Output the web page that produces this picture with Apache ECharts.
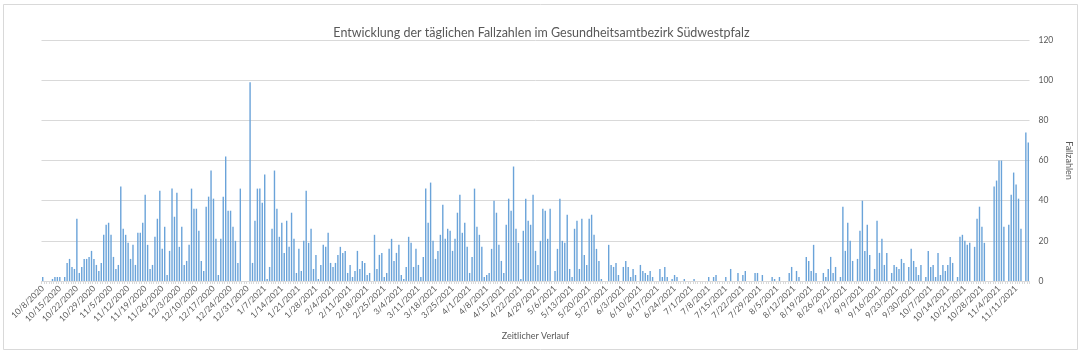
<!DOCTYPE html>
<html>
<head>
<meta charset="utf-8">
<script src="https://cdn.jsdelivr.net/npm/echarts@6/dist/echarts.min.js"></script>
<style>
html,body{margin:0;padding:0;background:#fff;}
#chart{width:1083px;height:356px;}
</style>
</head>
<body>
<div id="chart"></div>
<script>
// Reporting period (one category per day)
const startDate = '2020-10-08';
const endDate = '2021-11-16';

// Daily case counts, in chronological order
const casesOct2020 = [2,0,0,0,1,2,2,2,0,2, 9,11,7,6,31,4,7,11,11,12,15,11,8,5,9,23,28,29,23,12,6,8,47,26,23,19];
const casesNovDec2020 = [11,18,8,24,24,29,43,18,6,8,22,31,45,16,27,3,15,46,32,44,17,27,8,10,18,46,36,36,25,10,5,37,42,55,41,21,3,21,42,62,35];
const casesDecFeb = [35,27,20,9,46,0,0,0,99,9,30,46,46,39,53,1,7,26,55,36,22,29,14,30,17,34,21,4,16,5,20,45,19,26,6,13,1,8,18,17,24];
const casesFebMar = [9,7,9,13,17,14,15,4,8,2,5,15,6,10,9,3,4,0,23,6,13,14,2,4,16,21,10,14,18,3,1,7,22,19,7,16,8,2,12,46,29];
const casesMarApr = [49,20,11,15,23,38,21,26,25,15,21,34,43,24,29,17,4,12,46,27,23,17,2,3,4,16,40,34,18,10,4,28,41,35,57,26,19,1,25,41,30];
const casesMayJun = [28,43,15,8,20,36,35,21,36,0,5,16,41,20,19,33,6,2,26,30,6,31,13,8,31,33,23,16,10,1,0,0,18,8,7,9,3,0,7,10,7,2,6,3];
const casesSummer = [0,8,5,4,3,5,2,0,0,6, 2,7,2,0,1,3,2,0,0,1, 0,0,0,1,0,0,0,0,0,2, 0,2,3,0,0,0,2,0,6,0, 0,4,0,3,5,0,0,0,4,4, 0,3,0,0,0,2,1,0,2,0, 0,0,4,7,0,5,2,0,0,12, 10,5,18,4,0,0,4,2,6,12, 4,7,0];
const casesSepOct = [2,37,15,29,20,10,0,11,25,40,15,28,13,0,6,30,14,21,8,14,0,4,8,7,6,11,9,0,7,16,10,7,3,8,0,2,15,7,8,2,14];
const casesOctNov2021 = [3,8,5,8,12,9,0,2,22,23,20,18,19,0,17,31,37,27,19,0,0,0,47,50,60,60,27,0,28,43,54,48,41,26,0,74,69];

// Y axis ticks
const yTicks = [0,20,40,60,80,100,120];

const titleText = 'Entwicklung der täglichen Fallzahlen im Gesundheitsamtbezirk Südwestpfalz';
const xName = 'Zeitlicher Verlauf';
const yName = 'Fallzahlen';

// Build categories (M/D/YYYY) for each day of the period
const categories = [];
{
  const d = new Date(startDate + 'T12:00:00Z');
  const e = new Date(endDate + 'T12:00:00Z');
  while (d <= e) {
    categories.push((d.getUTCMonth()+1) + '/' + d.getUTCDate() + '/' + d.getUTCFullYear());
    d.setUTCDate(d.getUTCDate()+1);
  }
}
const values = [].concat(casesOct2020, casesNovDec2020, casesDecFeb, casesFebMar, casesMarApr,
  casesMayJun, casesSummer, casesSepOct, casesOctNov2021);

const FONT = 'Lato';
const TXT = '#595959';
const GRID = '#d9d9d9';

const chart = echarts.init(document.getElementById('chart'), null, {renderer:'canvas'});
chart.setOption({
  animation: false,
  backgroundColor: '#fff',
  textStyle: {fontFamily: FONT},
  title: {
    text: titleText,
    left: 'center',
    top: 21,
    textStyle: {fontFamily: FONT, fontSize: 12.5, fontWeight: 'normal', color: TXT}
  },
  graphic: [{
    type: 'rect',
    shape: {x: 3.5, y: 4.5, width: 1074, height: 345},
    style: {fill: 'none', stroke: GRID, lineWidth: 1},
    silent: true
  }],
  grid: {left: 41.5, right: 53.5, top: 40, bottom: 75, containLabel: false},
  xAxis: {
    type: 'category',
    data: categories,
    name: xName,
    nameLocation: 'middle',
    nameGap: 51,
    nameTextStyle: {fontFamily: FONT, fontSize: 9, color: TXT},
    axisLine: {lineStyle: {color: GRID, width: 1}},
    axisTick: {show: true, interval: 0, length: 3, lineStyle: {color: GRID}},
    axisLabel: {interval: 6, rotate: 45, fontSize: 8.5, color: TXT, fontFamily: FONT, margin: 6}
  },
  yAxis: {
    type: 'value',
    position: 'right',
    min: yTicks[0],
    max: yTicks[yTicks.length-1],
    interval: yTicks[1]-yTicks[0],
    name: yName,
    nameLocation: 'middle',
    nameRotate: -90,
    nameGap: 30,
    nameTextStyle: {fontFamily: FONT, fontSize: 9, color: TXT},
    axisLine: {show: false},
    axisTick: {show: false},
    axisLabel: {fontSize: 8.5, color: TXT, fontFamily: FONT, margin: 9},
    splitLine: {lineStyle: {color: GRID, width: 1}}
  },
  series: [{
    type: 'bar',
    data: values,
    barWidth: 1.4,
    itemStyle: {color: '#6aa3d9'}
  }]
});
</script>
</body>
</html>
